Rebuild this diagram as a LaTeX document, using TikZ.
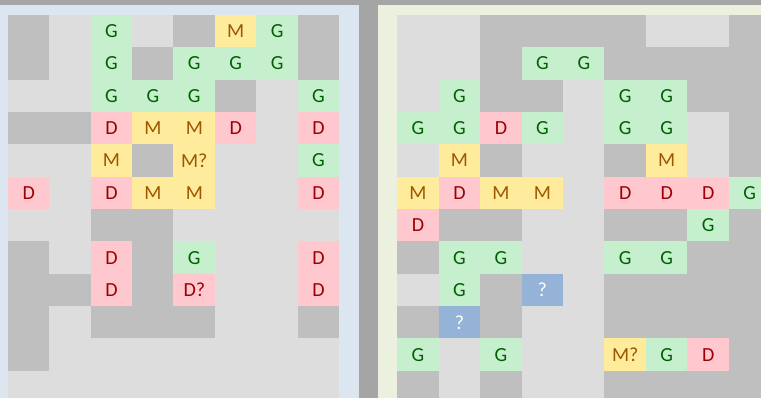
\documentclass[tikz,border=0pt]{standalone}
\usepackage{fontspec}
\setmainfont{Carlito}
\usepackage{xcolor}
\usepackage{tikz}

\begin{document}
\begin{tikzpicture}[x=1pt,y=-1pt,
  cell/.style={fill=fill#1,text=text#1,minimum width=41.7pt,minimum height=32.6pt,
    inner sep=0pt,outer sep=0pt,font=\fontsize{20}{22}\selectfont}]
\definecolor{sepgr}{RGB}{165,165,165}
\definecolor{panelB}{RGB}{220,230,241}
\definecolor{panelG}{RGB}{235,241,222}
\definecolor{fillK}{RGB}{191,191,191}
\definecolor{fillL}{RGB}{221,221,221}
\definecolor{fillG}{RGB}{198,239,206}
\definecolor{fillD}{RGB}{255,199,206}
\definecolor{fillM}{RGB}{255,235,156}
\definecolor{fillQ}{RGB}{149,179,215}
\definecolor{textK}{RGB}{0,0,0}
\definecolor{textL}{RGB}{0,0,0}
\definecolor{textG}{RGB}{0,97,0}
\definecolor{textD}{RGB}{156,0,6}
\definecolor{textM}{RGB}{156,87,0}
\definecolor{textQ}{RGB}{255,255,255}
\useasboundingbox (0,0) rectangle (761,398);
\clip (0,0) rectangle (761,398);
% panels
\fill[sepgr] (0,0) rectangle (761,398);
\fill[panelB] (0,5) rectangle (359,398);
\fill[panelG] (378,5) rectangle (761,398);
% left grid
\foreach \cells [count=\r from 0] in {
  {K/,L/,G/G,L/,K/,M/M,G/G,K/},
  {K/,L/,G/G,K/,G/G,G/G,G/G,K/},
  {L/,L/,G/G,G/G,G/G,K/,L/,G/G},
  {K/,K/,D/D,M/M,M/M,D/D,L/,D/D},
  {L/,L/,M/M,K/,M/M?,L/,L/,G/G},
  {D/D,L/,D/D,M/M,M/M,L/,L/,D/D},
  {L/,L/,K/,K/,L/,L/,L/,L/},
  {K/,L/,D/D,K/,G/G,L/,L/,D/D},
  {K/,K/,D/D,K/,D/D?,L/,L/,D/D},
  {K/,L/,K/,K/,K/,L/,L/,K/},
  {K/,L/,L/,L/,L/,L/,L/,L/},
  {L/,L/,L/,L/,L/,L/,L/,L/}}
  \foreach \c/\t [count=\k from 0] in \cells
    \node[cell=\c] (l-\r-\k) at ({8+41.4*(\k+0.5)},{15+32.35*(\r+0.5)}) {\t};
% right grid
\foreach \cells [count=\r from 0] in {
  {L/,L/,K/,K/,K/,K/,L/,L/,K/},
  {L/,L/,K/,G/G,G/G,K/,K/,K/,K/},
  {L/,G/G,K/,K/,L/,G/G,G/G,K/,K/},
  {G/G,G/G,D/D,G/G,L/,G/G,G/G,L/,K/},
  {L/,M/M,K/,L/,L/,K/,M/M,L/,K/},
  {M/M,D/D,M/M,M/M,L/,D/D,D/D,D/D,G/G},
  {D/D,K/,K/,L/,L/,K/,K/,G/G,K/},
  {K/,G/G,G/G,L/,L/,G/G,G/G,K/,K/},
  {L/,G/G,K/,Q/?,L/,K/,K/,K/,K/},
  {K/,Q/?,K/,L/,L/,K/,K/,K/,K/},
  {G/G,L/,G/G,L/,L/,M/M?,G/G,D/D,K/},
  {K/,L/,K/,L/,L/,K/,K/,K/,K/}}
  \foreach \c/\t [count=\k from 0] in \cells
    \node[cell=\c] (r-\r-\k) at ({397.3+41.45*(\k+0.5)},{15+32.35*(\r+0.5)}) {\t};
\end{tikzpicture}
\end{document}
